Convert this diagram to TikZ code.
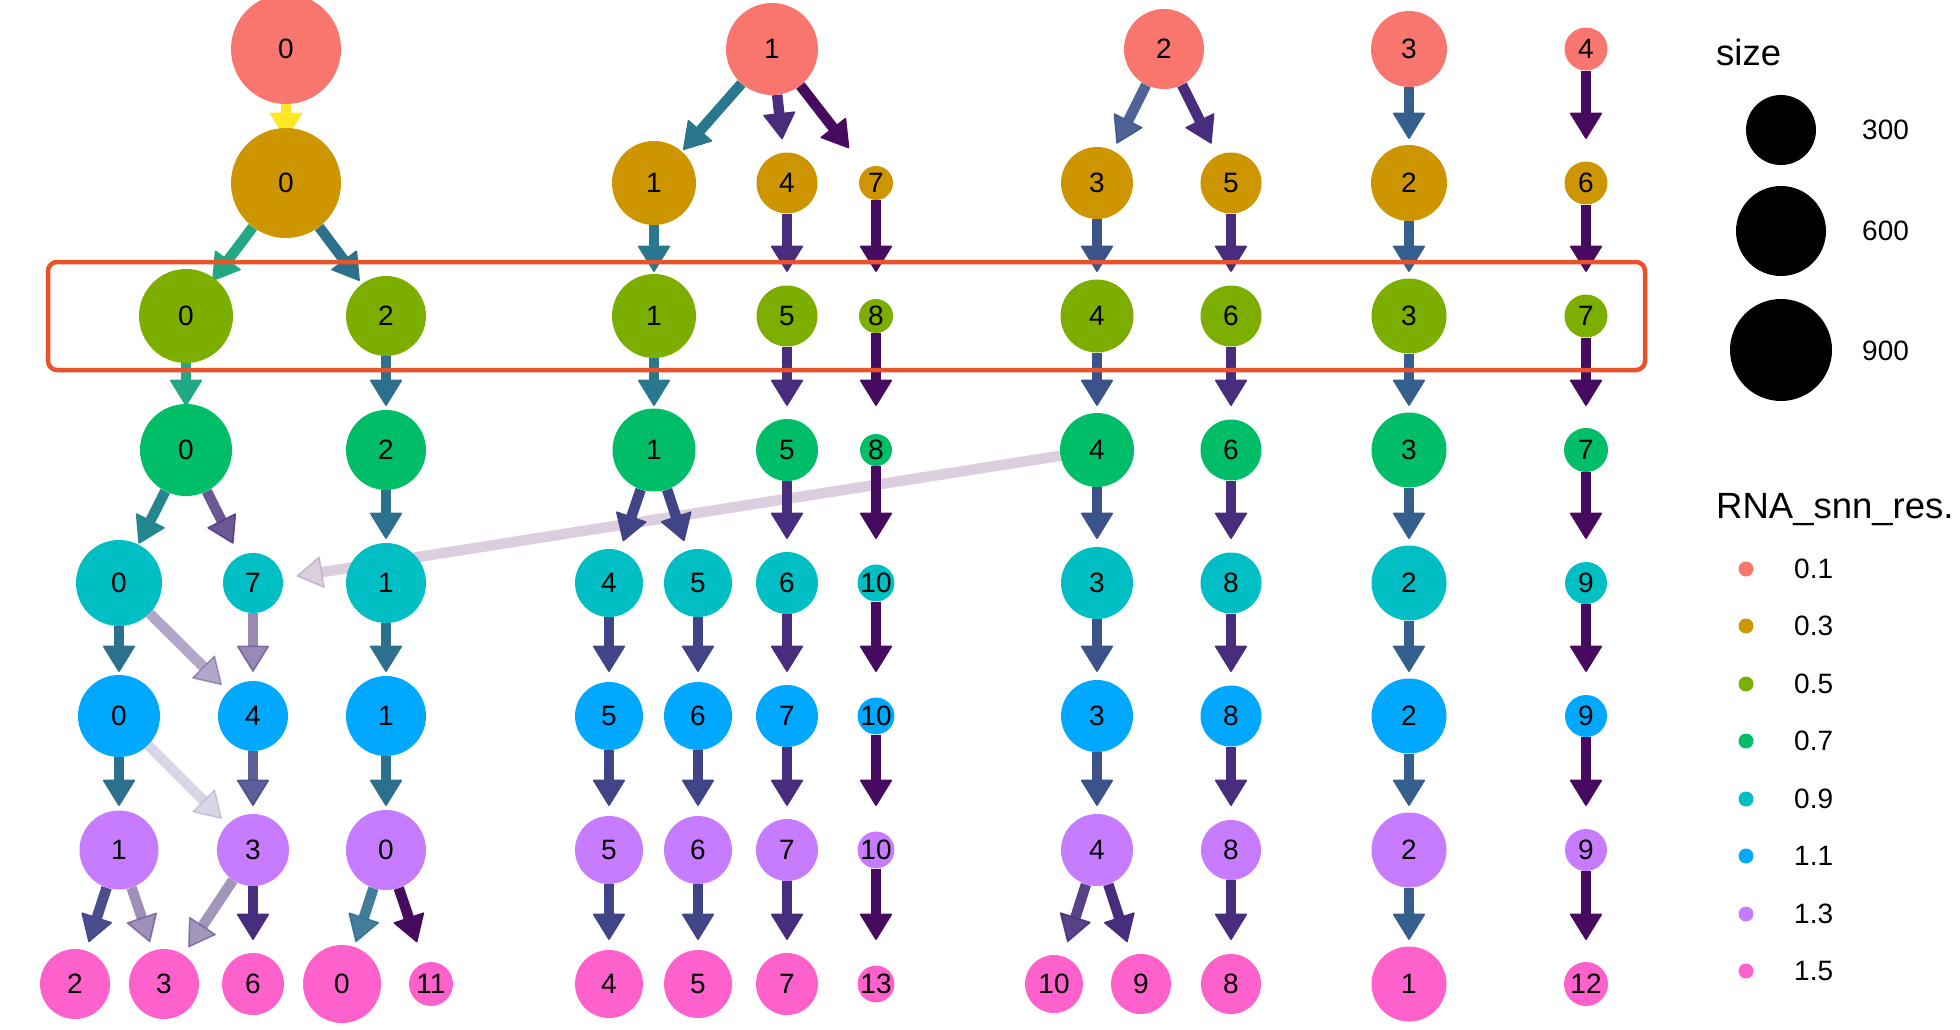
\documentclass[tikz,border=0pt]{standalone}
\usepackage{fontspec}
\setmainfont{Liberation Sans}
\usetikzlibrary{arrows.meta,calc,backgrounds}
\definecolor{res01}{HTML}{F8766D}
\definecolor{res03}{HTML}{CD9600}
\definecolor{res05}{HTML}{7CAE00}
\definecolor{res07}{HTML}{00BE67}
\definecolor{res09}{HTML}{00BFC4}
\definecolor{res11}{HTML}{00A9FF}
\definecolor{res13}{HTML}{C77CFF}
\definecolor{res15}{HTML}{FF61CC}
\definecolor{vyel}{HTML}{FDE725}
\definecolor{vgrn}{HTML}{22A884}
\definecolor{vteg}{HTML}{24868E}
\definecolor{vtea}{HTML}{2A788E}
\definecolor{vtea2}{HTML}{2D708E}
\definecolor{vblu}{HTML}{355F8D}
\definecolor{vblu2}{HTML}{3B528B}
\definecolor{vind}{HTML}{414487}
\definecolor{vpur}{HTML}{472D7B}
\definecolor{vdrk}{HTML}{460B5E}
\definecolor{marco}{HTML}{E9532B}

\begin{document}
\begin{tikzpicture}[x=1pt, y=-1pt,
      n/.style={circle, inner sep=0pt, font=\fontsize{28}{32}\selectfont},
      e/.style={line width=10.5pt, -{Triangle[width=33pt,length=27pt,line width=1.5pt,round]},
                to path={-- ($(\tikztotarget.center)!44pt!(\tikztostart.center)$)}},
      leg/.style={anchor=west, inner sep=0pt, font=\fontsize{28}{32}\selectfont},
      tit/.style={anchor=west, inner sep=0pt, font=\fontsize{36.5}{42}\selectfont},
      dot/.style={circle, inner sep=0pt, minimum size=15pt}]
    \useasboundingbox (0,0) rectangle (1960,1030);

    \node[n, fill=res01, minimum size=110pt] (a0) at (286,49) {0};
    \node[n, fill=res01, minimum size=92pt] (a1) at (772,49) {1};
    \node[n, fill=res01, minimum size=80pt] (a2) at (1164,49) {2};
    \node[n, fill=res01, minimum size=76pt] (a3) at (1409,49) {3};
    \node[n, fill=res01, minimum size=43pt] (a4) at (1586,49) {4};

    \node[n, fill=res03, minimum size=110pt] (b0) at (286,183) {0};
    \node[n, fill=res03, minimum size=84pt] (b1) at (654,183) {1};
    \node[n, fill=res03, minimum size=61pt] (b4) at (787,183) {4};
    \node[n, fill=res03, minimum size=34pt] (b7) at (876,183) {7};
    \node[n, fill=res03, minimum size=72pt] (b3) at (1097,183) {3};
    \node[n, fill=res03, minimum size=61pt] (b5) at (1231,183) {5};
    \node[n, fill=res03, minimum size=76pt] (b2) at (1409,183) {2};
    \node[n, fill=res03, minimum size=43pt] (b6) at (1586,183) {6};

    \node[n, fill=res05, minimum size=94pt] (c0) at (186,316) {0};
    \node[n, fill=res05, minimum size=80pt] (c2) at (386,316) {2};
    \node[n, fill=res05, minimum size=84pt] (c1) at (654,316) {1};
    \node[n, fill=res05, minimum size=61pt] (c5) at (787,316) {5};
    \node[n, fill=res05, minimum size=34pt] (c8) at (876,316) {8};
    \node[n, fill=res05, minimum size=73pt] (c4) at (1097,316) {4};
    \node[n, fill=res05, minimum size=61pt] (c6) at (1231,316) {6};
    \node[n, fill=res05, minimum size=75pt] (c3) at (1409,316) {3};
    \node[n, fill=res05, minimum size=43pt] (c7) at (1586,316) {7};

    \node[n, fill=res07, minimum size=92pt] (d0) at (186,450) {0};
    \node[n, fill=res07, minimum size=80pt] (d2) at (386,450) {2};
    \node[n, fill=res07, minimum size=83pt] (d1) at (654,450) {1};
    \node[n, fill=res07, minimum size=62pt] (d5) at (787,450) {5};
    \node[n, fill=res07, minimum size=32pt] (d8) at (876,450) {8};
    \node[n, fill=res07, minimum size=74pt] (d4) at (1097,450) {4};
    \node[n, fill=res07, minimum size=61pt] (d6) at (1231,450) {6};
    \node[n, fill=res07, minimum size=75pt] (d3) at (1409,450) {3};
    \node[n, fill=res07, minimum size=44pt] (d7) at (1586,450) {7};

    \node[n, fill=res09, minimum size=86pt] (e0) at (119,583) {0};
    \node[n, fill=res09, minimum size=60pt] (e7) at (253,583) {7};
    \node[n, fill=res09, minimum size=80pt] (e1) at (386,583) {1};
    \node[n, fill=res09, minimum size=68pt] (e4) at (609,583) {4};
    \node[n, fill=res09, minimum size=68pt] (e5) at (698,583) {5};
    \node[n, fill=res09, minimum size=62pt] (e6) at (787,583) {6};
    \node[n, fill=res09, minimum size=32pt] (e10) at (876,583) {10};
    \node[n, fill=res09, minimum size=72pt] (e3) at (1097,583) {3};
    \node[n, fill=res09, minimum size=61pt] (e8) at (1231,583) {8};
    \node[n, fill=res09, minimum size=75pt] (e2) at (1409,583) {2};
    \node[n, fill=res09, minimum size=42pt] (e9) at (1586,583) {9};

    \node[n, fill=res11, minimum size=82pt] (f0) at (119,716) {0};
    \node[n, fill=res11, minimum size=70pt] (f4) at (253,716) {4};
    \node[n, fill=res11, minimum size=80pt] (f1) at (386,716) {1};
    \node[n, fill=res11, minimum size=68pt] (f5) at (609,716) {5};
    \node[n, fill=res11, minimum size=68pt] (f6) at (698,716) {6};
    \node[n, fill=res11, minimum size=62pt] (f7) at (787,716) {7};
    \node[n, fill=res11, minimum size=32pt] (f10) at (876,716) {10};
    \node[n, fill=res11, minimum size=72pt] (f3) at (1097,716) {3};
    \node[n, fill=res11, minimum size=61pt] (f8) at (1231,716) {8};
    \node[n, fill=res11, minimum size=75pt] (f2) at (1409,716) {2};
    \node[n, fill=res11, minimum size=42pt] (f9) at (1586,716) {9};

    \node[n, fill=res13, minimum size=79pt] (g1) at (119,850) {1};
    \node[n, fill=res13, minimum size=72pt] (g3) at (253,850) {3};
    \node[n, fill=res13, minimum size=80pt] (g0) at (386,850) {0};
    \node[n, fill=res13, minimum size=68pt] (g5) at (609,850) {5};
    \node[n, fill=res13, minimum size=68pt] (g6) at (698,850) {6};
    \node[n, fill=res13, minimum size=62pt] (g7) at (787,850) {7};
    \node[n, fill=res13, minimum size=32pt] (g10) at (876,850) {10};
    \node[n, fill=res13, minimum size=72pt] (g4) at (1097,850) {4};
    \node[n, fill=res13, minimum size=60pt] (g8) at (1231,850) {8};
    \node[n, fill=res13, minimum size=75pt] (g2) at (1409,850) {2};
    \node[n, fill=res13, minimum size=42pt] (g9) at (1586,850) {9};

    \node[n, fill=res15, minimum size=70pt] (h2) at (75,984) {2};
    \node[n, fill=res15, minimum size=70pt] (h3) at (164,984) {3};
    \node[n, fill=res15, minimum size=62pt] (h6) at (253,984) {6};
    \node[n, fill=res15, minimum size=78pt] (h0) at (342,984) {0};
    \node[n, fill=res15, minimum size=44pt] (h11) at (431,984) {11};
    \node[n, fill=res15, minimum size=68pt] (h4) at (609,984) {4};
    \node[n, fill=res15, minimum size=68pt] (h5) at (698,984) {5};
    \node[n, fill=res15, minimum size=62pt] (h7) at (787,984) {7};
    \node[n, fill=res15, minimum size=32pt] (h13) at (876,984) {13};
    \node[n, fill=res15, minimum size=58pt] (h10) at (1054,984) {10};
    \node[n, fill=res15, minimum size=60pt] (h9) at (1141,984) {9};
    \node[n, fill=res15, minimum size=60pt] (h8) at (1231,984) {8};
    \node[n, fill=res15, minimum size=75pt] (h1) at (1409,984) {1};
    \node[n, fill=res15, minimum size=44pt] (h12) at (1586,984) {12};

    \begin{scope}[on background layer]
      \draw[e, vdrk, opacity=0.2] (d4) to (e7);
      \draw[e, vpur, opacity=0.2] (f0) to (g3);
      \draw[e, vpur, opacity=0.42] (e0) to (f4);
      \draw[e, vpur, opacity=0.56] (e7) to (f4);
      \draw[e, vpur, opacity=0.53] (g1) to (h3);
      \draw[e, vpur, opacity=0.5] (g3) to (h3);
      \draw[e, vpur, opacity=0.8] (d0) to (e7);

      \draw[e, vyel] (a0) to (b0);
      \draw[e, vtea] (a1) to (b1);
      \draw[e, vpur] (a1) to (b4);
      \draw[e, vdrk] (a1) to (b7);
      \draw[e, vblu2, opacity=0.9] (a2) to (b3);
      \draw[e, vpur] (a2) to (b5);
      \draw[e, vblu] (a3) to (b2);
      \draw[e, vdrk] (a4) to (b6);

      \draw[e, vgrn] (b0) to (c0);
      \draw[e, vtea2] (b0) to (c2);
      \draw[e, vtea] (b1) to (c1);
      \draw[e, vpur] (b4) to (c5);
      \draw[e, vdrk] (b7) to (c8);
      \draw[e, vblu2] (b3) to (c4);
      \draw[e, vpur] (b5) to (c6);
      \draw[e, vblu] (b2) to (c3);
      \draw[e, vdrk] (b6) to (c7);

      \draw[e, vgrn] (c0) to (d0);
      \draw[e, vtea2] (c2) to (d2);
      \draw[e, vtea] (c1) to (d1);
      \draw[e, vpur] (c5) to (d5);
      \draw[e, vdrk] (c8) to (d8);
      \draw[e, vblu2] (c4) to (d4);
      \draw[e, vpur] (c6) to (d6);
      \draw[e, vblu] (c3) to (d3);
      \draw[e, vdrk] (c7) to (d7);

      \draw[e, vteg] (d0) to (e0);
      \draw[e, vtea2] (d2) to (e1);
      \draw[e, vind] (d1) to (e4);
      \draw[e, vind] (d1) to (e5);
      \draw[e, vpur] (d5) to (e6);
      \draw[e, vdrk] (d8) to (e10);
      \draw[e, vblu2] (d4) to (e3);
      \draw[e, vpur] (d6) to (e8);
      \draw[e, vblu] (d3) to (e2);
      \draw[e, vdrk] (d7) to (e9);

      \draw[e, vtea2] (e0) to (f0);
      \draw[e, vtea2] (e1) to (f1);
      \draw[e, vind] (e4) to (f5);
      \draw[e, vind] (e5) to (f6);
      \draw[e, vpur] (e6) to (f7);
      \draw[e, vdrk] (e10) to (f10);
      \draw[e, vblu2] (e3) to (f3);
      \draw[e, vpur] (e8) to (f8);
      \draw[e, vblu] (e2) to (f2);
      \draw[e, vdrk] (e9) to (f9);

      \draw[e, vtea2] (f0) to (g1);
      \draw[e, vind, opacity=0.86] (f4) to (g3);
      \draw[e, vtea2] (f1) to (g0);
      \draw[e, vind] (f5) to (g5);
      \draw[e, vind] (f6) to (g6);
      \draw[e, vpur] (f7) to (g7);
      \draw[e, vdrk] (f10) to (g10);
      \draw[e, vblu2] (f3) to (g4);
      \draw[e, vpur] (f8) to (g8);
      \draw[e, vblu] (f2) to (g2);
      \draw[e, vdrk] (f9) to (g9);

      \draw[e, vind, opacity=0.95] (g1) to (h2);
      \draw[e, vpur] (g3) to (h6);
      \draw[e, vtea2, opacity=0.9] (g0) to (h0);
      \draw[e, vdrk] (g0) to (h11);
      \draw[e, vind] (g5) to (h4);
      \draw[e, vind] (g6) to (h5);
      \draw[e, vpur] (g7) to (h7);
      \draw[e, vdrk] (g10) to (h13);
      \draw[e, vpur, opacity=0.9] (g4) to (h10);
      \draw[e, vpur] (g4) to (h9);
      \draw[e, vpur] (g8) to (h8);
      \draw[e, vblu] (g2) to (h1);
      \draw[e, vdrk] (g9) to (h12);
    \end{scope}

    \draw[marco, line width=4.5pt, rounded corners=9pt] (48,262) rectangle (1645,370);

    \node[tit] (tsize) at (1716,52) {size};
    \node[circle, fill=black, minimum size=70pt] (s300) at (1781,130) {};
    \node[circle, fill=black, minimum size=90pt] (s600) at (1781,231) {};
    \node[circle, fill=black, minimum size=102pt] (s900) at (1781,350) {};
    \node[leg] (l300) at (1862,130) {300};
    \node[leg] (l600) at (1862,231) {600};
    \node[leg] (l900) at (1862,351) {900};

    \node[tit] (tres) at (1716,510) {RNA\_snn\_res.};
    \node[dot, fill=res01] (k01) at (1746,569) {};
    \node[dot, fill=res03] (k03) at (1746,626) {};
    \node[dot, fill=res05] (k05) at (1746,684) {};
    \node[dot, fill=res07] (k07) at (1746,741) {};
    \node[dot, fill=res09] (k09) at (1746,799) {};
    \node[dot, fill=res11] (k11) at (1746,856) {};
    \node[dot, fill=res13] (k13) at (1746,914) {};
    \node[dot, fill=res15] (k15) at (1746,971) {};
    \node[leg] (m01) at (1794,569) {0.1};
    \node[leg] (m03) at (1794,626) {0.3};
    \node[leg] (m05) at (1794,684) {0.5};
    \node[leg] (m07) at (1794,741) {0.7};
    \node[leg] (m09) at (1794,799) {0.9};
    \node[leg] (m11) at (1794,856) {1.1};
    \node[leg] (m13) at (1794,914) {1.3};
    \node[leg] (m15) at (1794,971) {1.5};
  \end{tikzpicture}
\end{document}
